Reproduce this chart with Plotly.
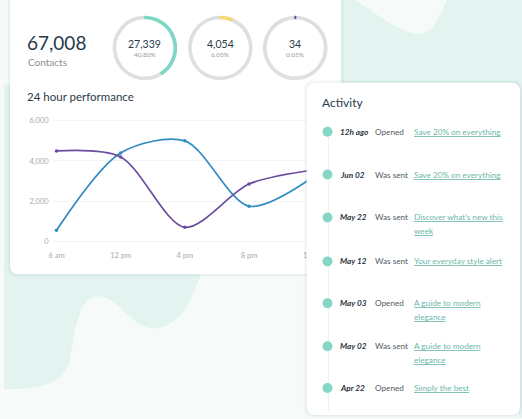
import plotly.graph_objects as go

W, H = 522, 419

# ---------------- data ----------------
total_contacts = 67008
segment_counts = [27339, 4054, 34]
segment_pcts = ["40.80%", "6.05%", "0.05%"]
segment_colors = ["#7fd6c4", "#f6d873", "#6a4fa3"]

hours = ["6 am", "12 pm", "4 pm", "8 pm", "12 am"]
series_blue = [550, 4400, 5000, 1750, 3200]
series_purple = [4500, 4200, 700, 2850, 3550]
y_ticks = [0, 2000, 4000, 6000]

act_dates = ["12h ago", "Jun 02", "May 22", "May 12", "May 03", "May 02", "Apr 22"]
act_actions = ["Opened", "Was sent", "Was sent", "Was sent", "Opened", "Was sent", "Opened"]
act_links = [
    ["Save 20% on everything"],
    ["Save 20% on everything"],
    ["Discover what\u2019s new this", "week"],
    ["Your everyday style alert"],
    ["A guide to modern", "elegance"],
    ["A guide to modern", "elegance"],
    ["Simply the best"],
]

# ---------------- helpers ----------------
def px(x):
    return x / W

def py(y):
    return 1 - y / H

def rrect(x0, y0, x1, y1, r):
    X0, X1 = px(x0), px(x1)
    Y0, Y1 = py(y0), py(y1)
    rx, ry = r / W, r / H
    return (f"M {X0+rx},{Y0} L {X1-rx},{Y0} Q {X1},{Y0} {X1},{Y0-ry} "
            f"L {X1},{Y1+ry} Q {X1},{Y1} {X1-rx},{Y1} L {X0+rx},{Y1} "
            f"Q {X0},{Y1} {X0},{Y1+ry} L {X0},{Y0-ry} Q {X0},{Y0} {X0+rx},{Y0} Z")

def path(cmds):
    out = []
    for c in cmds:
        if isinstance(c, str):
            out.append(c)
        else:
            out.append(f"{px(c[0])},{py(c[1])}")
    return " ".join(out)

BG = "#f6fbfa"
TEAL_BG = "#e3f3f0"
DARK = "#2b3a4a"
FONT = "Lato"

fig = go.Figure()

# ---------------- line chart ----------------
fig.add_trace(go.Scatter(
    x=hours, y=series_blue, mode="lines+markers",
    line=dict(color="#2f8cc0", width=1.7, shape="spline", smoothing=0.85),
    marker=dict(size=3.5, color="#2f8cc0"), hoverinfo="skip", showlegend=False))
fig.add_trace(go.Scatter(
    x=hours, y=series_purple, mode="lines+markers",
    line=dict(color="#6b4c9f", width=1.7, shape="spline", smoothing=0.85),
    marker=dict(size=3.5, color="#6b4c9f"), hoverinfo="skip", showlegend=False))

# ---------------- donuts ----------------
centers = [142, 218, 293.5]
R = 31.5
GRAY_RING = "#dfdfdf"
for i, cnt in enumerate(segment_counts):
    cx, cy = centers[i], 48
    share = cnt / total_contacts
    # grey remainder drawn first (starting where the coloured arc ends),
    # coloured arc drawn last from 12 o'clock clockwise so it sits on top
    fig.add_trace(go.Pie(
        values=[total_contacts - cnt, cnt],
        marker=dict(colors=[GRAY_RING, segment_colors[i]],
                    line=dict(width=2, color=[GRAY_RING, segment_colors[i]])),
        hole=0.945, sort=False, direction="clockwise", rotation=360 * share,
        textinfo="none", hoverinfo="skip", showlegend=False,
        domain=dict(x=[px(cx - R), px(cx + R)], y=[py(cy + R), py(cy - R)])))

fig.update_layout(
    width=W, height=H, margin=dict(l=0, r=0, t=0, b=0),
    paper_bgcolor=BG, plot_bgcolor="rgba(0,0,0,0)",
    font=dict(family=FONT),
    xaxis=dict(domain=[px(49), px(340)], range=[-0.06, 4.44], type="category",
               showgrid=False, zeroline=False, showline=False, ticks="",
               ticklabelstandoff=4,
               tickfont=dict(size=7.5, color="#a9a9a9", family=FONT)),
    yaxis=dict(domain=[py(246), py(115)], range=[-200, 6300],
               tickvals=y_ticks, tickformat=",", showgrid=True,
               gridcolor="#f1f4f4", gridwidth=1, zeroline=False, showline=False,
               ticks="", ticklabelstandoff=3,
               tickfont=dict(size=7.5, color="#a9a9a9", family=FONT)),
)

shapes = []
# background blobs
shapes.append(dict(type="rect", xref="paper", yref="paper", x0=px(300), x1=1, y0=py(90), y1=1,
                   fillcolor=TEAL_BG, line=dict(width=0), layer="below"))
shapes.append(dict(type="path", xref="paper", yref="paper", layer="below",
                   path=path(["M", (352, -1), "C", (372, 10), (398, 34), (418, 34),
                              "C", (434, 34), (440, 12), (447, -1), "Z"]),
                   fillcolor=BG, line=dict(width=0)))
shapes.append(dict(type="path", xref="paper", yref="paper", layer="below",
                   path=path(["M", (0, 85), "L", (200, 85), "L", (200, 270),
                              "C", (190, 300), (178, 329), (150, 329),
                              "C", (128, 329), (115, 297), (95, 297),
                              "C", (75, 297), (72, 330), (66, 362),
                              "C", (60, 386), (35, 390), (0, 390), "Z"]),
                   fillcolor=TEAL_BG, line=dict(width=0)))
shapes.append(dict(type="rect", xref="paper", yref="paper", x0=px(519), x1=1, y0=py(419), y1=py(80),
                   fillcolor=TEAL_BG, line=dict(width=0), layer="below"))
# left card with soft shadow
for off, op in [(3, 0.025), (2, 0.03), (1, 0.04)]:
    shapes.append(dict(type="path", xref="paper", yref="paper", layer="below",
                       path=rrect(6 - off, -12, 340 + off, 275 + off, 10),
                       fillcolor=f"rgba(60,110,110,{op})", line=dict(width=0)))
shapes.append(dict(type="path", xref="paper", yref="paper", layer="below",
                   path=rrect(6, -12, 340, 275, 9), fillcolor="white", line=dict(width=0)))
# activity card (above the chart lines)
for off, op in [(3, 0.025), (2, 0.03), (1, 0.04)]:
    shapes.append(dict(type="path", xref="paper", yref="paper", layer="above",
                       path=rrect(305 - off, 83 - off, 520 + off, 416 + off, 10),
                       fillcolor=f"rgba(60,110,110,{op})", line=dict(width=0)))
shapes.append(dict(type="path", xref="paper", yref="paper", layer="above",
                   path=rrect(305, 83, 520, 416, 9), fillcolor="white", line=dict(width=0)))
shapes.append(dict(type="line", xref="paper", yref="paper", layer="above",
                   x0=px(327), x1=px(327), y0=py(132), y1=py(412),
                   line=dict(color="#eef3f3", width=1.2)))

annotations = []
def txt(x, y, s, size, color, xanchor="left", yanchor="middle"):
    annotations.append(dict(x=px(x), y=py(y), xref="paper", yref="paper", text=s,
                            showarrow=False, xanchor=xanchor, yanchor=yanchor,
                            font=dict(size=size, color=color, family=FONT)))

txt(21, 43, f"{total_contacts:,}", 19, DARK)
txt(22, 62, "Contacts", 10, "#8a8f94")
for i, cnt in enumerate(segment_counts):
    txt(centers[i], 44.5, f"{cnt:,}", 10.5, DARK, xanchor="center")
    txt(centers[i], 55, segment_pcts[i], 6.5, "#9a9a9a", xanchor="center")
txt(21, 97, "24 hour performance", 11.5, DARK)
txt(318, 103, "Activity", 12, DARK)

row_y = [132, 175, 218, 262, 304, 347, 389]
for i in range(len(act_dates)):
    y = row_y[i]
    shapes.append(dict(type="circle", xref="paper", yref="paper", layer="above",
                       x0=px(321), x1=px(331), y0=py(y + 5), y1=py(y - 5),
                       fillcolor="#86d6c6", line=dict(width=0)))
    txt(337, y, f"<b><i>{act_dates[i]}</i></b>", 8.2, "#2b3440")
    txt(372, y, act_actions[i], 8.2, "#505a63")
    for j, line in enumerate(act_links[i]):
        txt(411, y + 13.5 * j, f"<u>{line}</u>", 8.2, "#6cb8aa")

fig.update_layout(shapes=shapes, annotations=annotations)
fig.write_html("out.html")
